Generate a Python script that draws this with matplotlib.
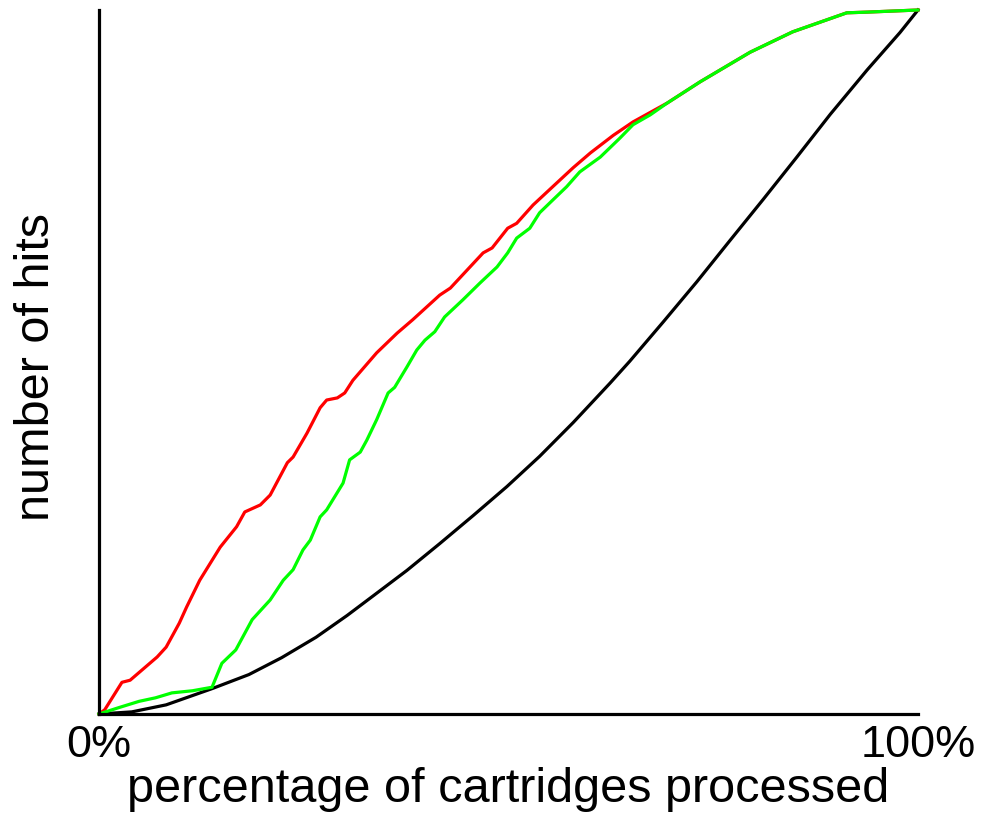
import matplotlib

matplotlib.use("Agg")
import matplotlib.pyplot as plt

# values, in percent of the axis range
red_x = [0, 0.7, 2.8, 3.8, 5.0, 7.1, 8.2, 9.8, 10.7, 12.3, 14.8, 16.8, 17.8, 19.7, 20.9,
         23.0, 23.7, 25.4, 27.0, 27.8, 29.1, 30.0, 31.0, 33.9, 36.4, 38.3, 41.6, 42.9,
         45.3, 46.9, 48.0, 49.9, 51.0, 53.0, 55.4, 57.9, 60.0, 62.8, 65.2, 69.4, 73.4,
         79.5, 84.7, 91.3, 93.8, 100]
red_y = [0, 0.6, 4.5, 4.8, 6.0, 8.1, 9.5, 12.9, 15.2, 19.0, 23.7, 26.6, 28.7, 29.7, 31.1,
         35.7, 36.5, 39.9, 43.5, 44.6, 44.9, 45.6, 47.4, 51.3, 54.1, 56.0, 59.5, 60.5,
         63.5, 65.5, 66.2, 69.0, 69.7, 72.3, 74.9, 77.6, 79.7, 82.2, 84.1, 86.8, 89.8,
         94.0, 96.9, 99.6, 99.7, 100]

green_x = [0, 2.4, 4.9, 6.9, 8.9, 11.4, 13.8, 15.0, 16.7, 18.7, 20.9, 22.5, 23.7, 24.9,
           25.8, 27.0, 27.8, 29.8, 30.6, 31.9, 32.7, 33.9, 35.3, 36.1, 37.6, 38.8, 39.8,
           41.0, 42.2, 44.4, 46.5, 48.6, 49.9, 51.0, 52.6, 53.8, 55.4, 57.1, 58.7, 61.2,
           63.6, 65.2, 67.3, 69.4, 73.4, 79.5, 84.7, 91.3, 93.8, 100]
green_y = [0, 0.9, 1.8, 2.3, 3.0, 3.3, 3.8, 7.2, 9.1, 13.4, 16.2, 19.0, 20.5, 23.3,
           24.7, 28.0, 29.0, 32.8, 36.1, 37.2, 38.9, 41.8, 45.6, 46.4, 49.3, 51.7, 53.1,
           54.3, 56.4, 58.8, 61.2, 63.5, 65.5, 67.6, 69.0, 71.2, 73.0, 74.9, 77.0, 79.1,
           81.8, 83.7, 85.1, 86.8, 89.8, 94.0, 96.9, 99.6, 99.7, 100]

random_x = [0, 4.0, 8.2, 13.8, 18.3, 22.3, 26.5, 30.3, 33.5, 37.6, 41.6, 45.7, 49.8, 53.8,
            57.9, 62.4, 64.8, 68.9, 73.0, 77.0, 81.1, 85.2, 89.3, 93.8, 97.8, 100]
random_y = [0, 0.3, 1.3, 3.6, 5.6, 8.0, 10.9, 14.0, 16.8, 20.4, 24.2, 28.2, 32.3, 36.6,
            41.4, 47.0, 50.1, 55.7, 61.4, 67.2, 73.1, 79.1, 85.2, 91.5, 96.8, 100]

tick_pos = [0, 100]
tick_labels = ["0%", "100%"]

plt.rcParams["font.family"] = ["Liberation Sans", "DejaVu Sans"]

fig = plt.figure(figsize=(9.81, 8.13), dpi=100)
ax = fig.add_axes([99 / 981, 99 / 813, 819 / 981, 704 / 813])

lw = 2.3
ax.plot(random_x, random_y, color="black", lw=lw, clip_on=False)
ax.plot(red_x, red_y, color="#ff0000", lw=lw, clip_on=False)
ax.plot(green_x, green_y, color="#00ff00", lw=lw, clip_on=False)

ax.set_xlim(0, 100)
ax.set_ylim(0, 100)
for side in ("top", "right"):
    ax.spines[side].set_visible(False)
for side in ("left", "bottom"):
    ax.spines[side].set_linewidth(2.3)

ax.set_xticks(tick_pos)
ax.set_xticklabels(tick_labels, fontsize=32.5)
ax.set_yticks([])
ax.tick_params(axis="x", length=0, pad=8)

fig.text(508 / 981, 11 / 813, "percentage of cartridges processed",
         fontsize=35, ha="center", va="baseline")
fig.text(37 / 981, 1 - 367 / 813, "number of hits",
         fontsize=35, ha="center", va="center", rotation=90)

fig.savefig("out.png", dpi=100)
